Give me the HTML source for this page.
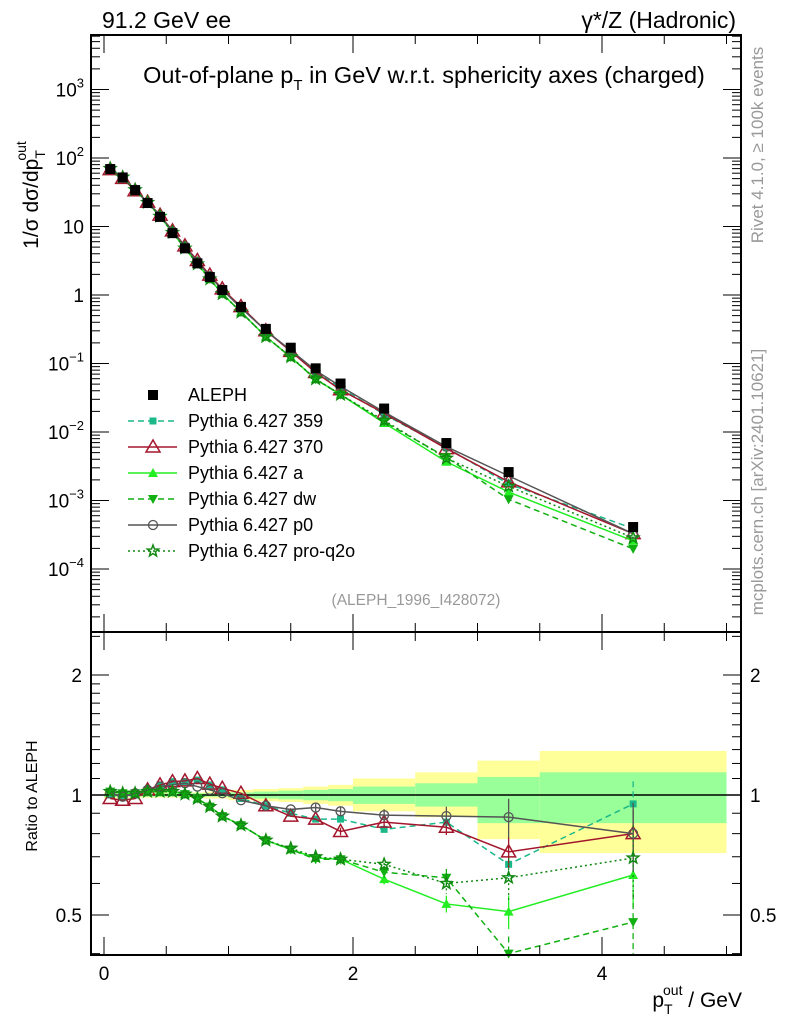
<!DOCTYPE html>
<html><head><meta charset="utf-8"><style>
body{margin:0;background:#fff}
svg{display:block;font-family:"Liberation Sans",sans-serif}
</style></head><body>
<svg id="c" width="786" height="1024" xmlns="http://www.w3.org/2000/svg">
<rect width="786" height="1024" fill="#fff"/>
<g id="bands"></g>
<g id="series"></g>
<g id="axes"></g>
<text x="102" y="28" font-size="23">91.2 GeV ee</text>
<text x="736" y="28" font-size="23" text-anchor="end">γ*/Z (Hadronic)</text>
<text x="424" y="83" font-size="23.5" text-anchor="middle">Out-of-plane p<tspan font-size="15" dy="7">T</tspan><tspan dy="-7"> in GeV w.r.t. sphericity axes (charged)</tspan></text>
<text x="416" y="605" font-size="15.5" fill="#999" text-anchor="middle">(ALEPH_1996_I428072)</text>
<text transform="translate(763,145) rotate(-90)" font-size="17" fill="#999" text-anchor="middle">Rivet 4.1.0, ≥ 100k events</text>
<text transform="translate(763,482) rotate(-90)" font-size="17" fill="#999" text-anchor="middle">mcplots.cern.ch [arXiv:2401.10621]</text>
<text transform="translate(38,195) rotate(-90)" font-size="21" text-anchor="middle">1/σ  dσ/dp<tspan font-size="14" dy="7">T</tspan><tspan font-size="14" dx="-9" dy="-19">out</tspan></text>
<text transform="translate(37,796) rotate(-90)" font-size="16" text-anchor="middle">Ratio to ALEPH</text>
<text x="742" y="1007" font-size="21" text-anchor="end">p<tspan font-size="14" dy="7">T</tspan><tspan font-size="14" dx="-8" dy="-19">out</tspan><tspan dy="12"> / GeV</tspan></text>
<g id="legend"></g>
</svg>
<script>
const xVals=[0.05,0.15,0.25,0.35,0.45,0.55,0.65,0.75,0.85,0.95,1.1,1.3,1.5,1.7,1.9,2.25,2.75,3.25,4.25];
const alephVals=[69,52,34,22,13.8,8.0,4.8,2.9,1.83,1.18,0.67,0.32,0.17,0.085,0.051,0.022,0.0069,0.0026,0.00041];
const binEdges=[0,0.1,0.2,0.3,0.4,0.5,0.6,0.7,0.8,0.9,1.0,1.2,1.4,1.6,1.8,2.0,2.5,3.0,3.5,5.0];
const yellowUp=[1.02,1.015,1.015,1.015,1.015,1.015,1.015,1.015,1.02,1.02,1.03,1.035,1.04,1.05,1.06,1.10,1.14,1.22,1.29];
const yellowDn=[0.98,0.985,0.985,0.985,0.985,0.985,0.985,0.985,0.98,0.98,0.97,0.965,0.96,0.95,0.94,0.91,0.88,0.775,0.715];
const greenUp=[1.01,1.01,1.01,1.01,1.01,1.01,1.01,1.01,1.01,1.01,1.015,1.02,1.025,1.03,1.035,1.05,1.07,1.11,1.14];
const greenDn=[0.99,0.99,0.99,0.99,0.99,0.99,0.99,0.99,0.99,0.99,0.985,0.98,0.975,0.97,0.965,0.95,0.935,0.85,0.85];
const r359=[1.0,0.99,1.0,1.03,1.06,1.08,1.08,1.09,1.06,1.03,0.98,0.94,0.9,0.87,0.87,0.82,0.855,0.67,0.95];
const r370=[0.98,0.97,0.98,1.03,1.06,1.08,1.085,1.10,1.065,1.04,1.01,0.94,0.885,0.87,0.81,0.855,0.83,0.72,0.80];
const rA=[1.02,1.01,1.01,1.02,1.02,1.02,1.005,0.98,0.935,0.885,0.84,0.77,0.73,0.695,0.69,0.615,0.533,0.51,0.63];
const rDW=[1.02,1.01,1.01,1.02,1.02,1.02,1.005,0.98,0.935,0.885,0.84,0.77,0.73,0.69,0.69,0.64,0.62,0.40,0.48];
const rP0=[1.01,0.99,1.01,1.03,1.05,1.06,1.07,1.05,1.03,1.01,0.97,0.94,0.92,0.93,0.91,0.89,0.885,0.88,0.80];
const rPro=[1.02,1.01,1.01,1.02,1.02,1.02,1.005,0.98,0.935,0.885,0.84,0.77,0.735,0.70,0.69,0.67,0.60,0.62,0.695];
const errFrac=[0.005,0.005,0.005,0.005,0.005,0.005,0.005,0.005,0.006,0.007,0.008,0.01,0.012,0.015,0.02,0.025,0.04,0.08,0.14];

const NS='http://www.w3.org/2000/svg';
const L=91,R=741,T=35,MB=632,RB=955;
const X=v=>104+124.5*v;
const Y=v=>295-68.5*Math.log10(v);
const RY=v=>795-120*Math.log2(v);
function mk(tag,at,par){const e=document.createElementNS(NS,tag);for(const k in at)e.setAttribute(k,at[k]);document.getElementById(par).appendChild(e);return e;}

for(let i=0;i<binEdges.length-1;i++){
  const x1=X(binEdges[i]),x2=X(binEdges[i+1]);
  let b=mk('rect',{x:x1,y:RY(yellowUp[i]),width:x2-x1,height:RY(yellowDn[i])-RY(yellowUp[i]),fill:'#ffff99'},'bands');
  
  
  let g=mk('rect',{x:x1,y:RY(greenUp[i]),width:x2-x1,height:RY(greenDn[i])-RY(greenUp[i]),fill:'#99ff99'},'bands');
  
  
}
let one=mk('line',{x1:L,x2:R,y1:RY(1),y2:RY(1),stroke:'#000','stroke-width':1.5},'bands');



const series=[
 {name:'Pythia 6.427 359',r:r359,c:'#1bb88a',dash:'6,4',m:'sq'},
 {name:'Pythia 6.427 370',r:r370,c:'#a3162c',dash:'',m:'tri'},
 {name:'Pythia 6.427 a',r:rA,c:'#22ee22',dash:'',m:'triF'},
 {name:'Pythia 6.427 dw',r:rDW,c:'#11b011',dash:'6,4',m:'tdn'},
 {name:'Pythia 6.427 p0',r:rP0,c:'#555555',dash:'',m:'circ'},
 {name:'Pythia 6.427 pro-q2o',r:rPro,c:'#118811',dash:'2,3',m:'star'}
];
function marker(m,x,y,c,par,s){
  s=s||1;
  if(m==='sq')return mk('rect',{x:x-3.5*s,y:y-3.5*s,width:7*s,height:7*s,fill:c},par);
  if(m==='tri')return mk('path',{d:`M${x},${y-7*s}L${x+7*s},${y+5*s}L${x-7*s},${y+5*s}Z`,fill:'none',stroke:c,'stroke-width':1.5},par);
  if(m==='triF')return mk('path',{d:`M${x},${y-5*s}L${x+5*s},${y+4*s}L${x-5*s},${y+4*s}Z`,fill:c},par);
  if(m==='tdn')return mk('path',{d:`M${x},${y+5*s}L${x+5*s},${y-4*s}L${x-5*s},${y-4*s}Z`,fill:c},par);
  if(m==='circ')return mk('circle',{cx:x,cy:y,r:4.5*s,fill:'none',stroke:c,'stroke-width':1.3},par);
  let p='';for(let k=0;k<10;k++){const a=-Math.PI/2+k*Math.PI/5,rr=k%2?2.5*s:6*s;p+=(k?'L':'M')+(x+rr*Math.cos(a)).toFixed(1)+','+(y+rr*Math.sin(a)).toFixed(1);}
  return mk('path',{d:p+'Z',fill:'none',stroke:c,'stroke-width':1.5},par);
}
series.forEach((s,si)=>{
  const mainPts=xVals.map((x,i)=>[X(x),Y(alephVals[i]*s.r[i])]);
  const ratioPts=xVals.map((x,i)=>[X(x),Math.min(RB,RY(s.r[i]))]);
  [mainPts,ratioPts].forEach((pts,pi)=>{
    let l=mk('polyline',{points:pts.map(p=>p.join(',')).join(' '),fill:'none',stroke:s.c,'stroke-width':1.5,'stroke-dasharray':s.dash},'series');
    
    
  });
  xVals.forEach((x,i)=>{
    const e=errFrac[i]*(1+si*0.1);
    if(e>0.02){
      let eb=mk('line',{x1:X(x),x2:X(x),y1:Math.max(T,RY(s.r[i]*(1+e))),y2:Math.min(RB,RY(s.r[i]*(1-e))),stroke:s.c,'stroke-width':1.3,'stroke-dasharray':s.dash},'series');
      
      
    }
    let m1=marker(s.m,mainPts[i][0],mainPts[i][1],s.c,'series');
    
    
    if(RY(s.r[i])<=RB){
      let m2=marker(s.m,ratioPts[i][0],ratioPts[i][1],s.c,'series');
      
      
    }
  });
});
xVals.forEach((x,i)=>{
  let d=mk('rect',{x:X(x)-5,y:Y(alephVals[i])-5,width:10,height:10,fill:'#000'},'series');
  
  
});

[[T,MB],[MB,RB]].forEach(([a,b])=>{
  let f=mk('rect',{x:L,y:a,width:R-L,height:b-a,fill:'none',stroke:'#000','stroke-width':2},'axes');
  
  
});
for(let d=-5;d<=3;d++){
  for(let k=1;k<10;k++){
    const v=k*Math.pow(10,d),y=Y(v);if(y<T||y>MB)continue;
    const len=k===1?18:9;
    mk('line',{x1:L,x2:L+len,y1:y,y2:y,stroke:'#000','stroke-width':1},'axes');
    mk('line',{x1:R,x2:R-len,y1:y,y2:y,stroke:'#000','stroke-width':1},'axes');
  }
}
const decVals=[-4,-3,-2,-1,0,1,2,3];
decVals.forEach((d,i)=>{
  const lab=['10','10','10','10','1','10','10','10'][i];
  const sup=['−4','−3','−2','−1','','','2','3'][i];
  let t=mk('text',{x:84,y:Y(Math.pow(10,d))+7,'font-size':19,'text-anchor':'end'},'axes');
  
  
  t.textContent=lab;
  if(sup){const ts=document.createElementNS(NS,'tspan');ts.setAttribute('font-size','13');ts.setAttribute('dy','-9');ts.textContent=sup;t.appendChild(ts);t.setAttribute('x',84);}
});
for(let v=0;v<=5.05;v+=0.5){
  const x=X(v),len=(Math.abs(v%2)<1e-6)?18:9;
  [MB,RB].forEach(b=>{mk('line',{x1:x,x2:x,y1:b,y2:b-len,stroke:'#000','stroke-width':1},'axes');});
  mk('line',{x1:x,x2:x,y1:T,y2:T+len,stroke:'#000','stroke-width':1},'axes');
  mk('line',{x1:x,x2:x,y1:MB,y2:MB+len,stroke:'#000','stroke-width':1},'axes');
}
[0,2,4].forEach(v=>{
  let t=mk('text',{x:X(v),y:980,'font-size':19,'text-anchor':'middle'},'axes');
  
  
  t.textContent=v;
});
[0.4,0.5,0.6,0.7,0.8,0.9,1,1.1,1.2,1.3,1.4,1.5,1.6,1.7,1.8,1.9,2,2.5].forEach(v=>{
  const y=RY(v);if(y<MB||y>RB)return;
  const len=(v===0.5||v===1||v===2)?18:9;
  mk('line',{x1:L,x2:L+len,y1:y,y2:y,stroke:'#000','stroke-width':1},'axes');
  mk('line',{x1:R,x2:R-len,y1:y,y2:y,stroke:'#000','stroke-width':1},'axes');
});
[[2,'2'],[1,'1'],[0.5,'0.5']].forEach(([v,s])=>{
  let t=mk('text',{x:82,y:RY(v)+7,'font-size':19,'text-anchor':'end'},'axes');
  
  
  t.textContent=s;
  let t2=mk('text',{x:750,y:RY(v)+7,'font-size':19},'axes');
  
  
  t2.textContent=s;
});
const legY=[395,421,447,473,499,525,551];
let lt=mk('text',{x:188,y:legY[0]+6,'font-size':18},'legend');


lt.textContent='ALEPH';
mk('rect',{x:148,y:legY[0]-5,width:10,height:10,fill:'#000'},'legend');
series.forEach((s,i)=>{
  const y=legY[i+1];
  mk('line',{x1:128,x2:177,y1:y,y2:y,stroke:s.c,'stroke-width':1.5,'stroke-dasharray':s.dash},'legend');
  marker(s.m,153,y,s.c,'legend');
  let t=mk('text',{x:188,y:y+6,'font-size':18},'legend');
  
  
  t.textContent=s.name;
});
</script>
</body></html>
